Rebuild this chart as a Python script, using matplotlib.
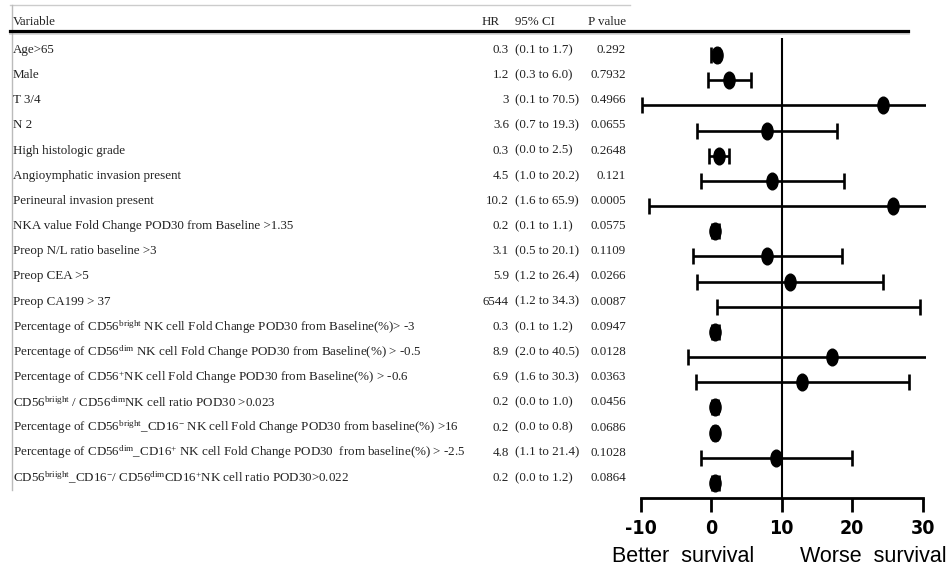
import matplotlib.pyplot as plt
import matplotlib.transforms as mtransforms
from matplotlib.lines import Line2D
from matplotlib.path import Path

plt.rcParams["mathtext.fontset"] = "custom"
plt.rcParams["mathtext.rm"] = "Liberation Serif"
plt.rcParams["mathtext.it"] = "Liberation Serif:italic"

# table columns
variables = [
    "Age>65",
    "Male",
    "T 3/4",
    "N 2",
    "High histologic grade",
    "Angioymphatic invasion present",
    "Perineural invasion present",
    "NKA value Fold Change POD30 from Baseline >1.35",
    "Preop N/L ratio baseline >3",
    "Preop CEA >5",
    "Preop CA199 > 37",
    r"Percentage of CD56$^{\mathrm{bright}}$ NK cell Fold Change POD30 from Baseline(%)> -3",
    r"Percentage of CD56$^{\mathrm{dim}}$ NK cell Fold Change POD30 from Baseline(%) > -0.5",
    r"Percentage of CD56$^{+}$NK cell Fold Change POD30 from Baseline(%) > -0.6",
    r"CD56$^{\mathrm{briight}}$ / CD56$^{\mathrm{dim}}$NK cell ratio POD30 >0.023",
    r"Percentage of CD56$^{\mathrm{bright}}$_CD16$^{-}$ NK cell Fold Change POD30 from baseline(%) >16",
    r"Percentage of CD56$^{\mathrm{dim}}$_CD16$^{+}$ NK cell Fold Change POD30  from baseline(%) > -2.5",
    r"CD56$^{\mathrm{briight}}$_CD16$^{-}$/ CD56$^{\mathrm{dim}}$CD16$^{+}$NK cell ratio POD30>0.022",
]
hr_text = ["0.3", "1.2", "3", "3.6", "0.3", "4.5", "10.2", "0.2", "3.1", "5.9",
           "6544", "0.3", "8.9", "6.9", "0.2", "0.2", "4.8", "0.2"]
ci_text = ["(0.1 to 1.7)", "(0.3 to 6.0)", "(0.1 to 70.5)", "(0.7 to 19.3)",
           "(0.0 to 2.5)", "(1.0 to 20.2)", "(1.6 to 65.9)", "(0.1 to 1.1)",
           "(0.5 to 20.1)", "(1.2 to 26.4)", "(1.2 to 34.3)", "(0.1 to 1.2)",
           "(2.0 to 40.5)", "(1.6 to 30.3)", "(0.0 to 1.0)", "(0.0 to 0.8)",
           "(1.1 to 21.4)", "(0.0 to 1.2)"]
p_text = ["0.292", "0.7932", "0.4966", "0.0655", "0.2648", "0.121", "0.0005",
          "0.0575", "0.1109", "0.0266", "0.0087", "0.0947", "0.0128", "0.0363",
          "0.0456", "0.0686", "0.1028", "0.0864"]

# values as drawn on the forest plot
point = [0.8, 2.5, 24.4, 7.9, 1.1, 8.6, 25.8, 0.6, 7.9, 11.2,
         6544, 0.6, 17.1, 12.9, 0.5, 0.5, 9.2, 0.6]
lower = [0.0, -0.5, -9.8, -2.0, -0.3, -1.5, -8.8, 0.1, -2.6, -2.0,
         0.8, 0.1, -3.3, -2.1, 0.1, 0.2, -1.5, 0.1]
upper = [1.1, 5.7, 70.5, 17.8, 2.5, 18.8, 65.9, 1.1, 18.5, 24.4,
         29.6, 1.1, 40.5, 28.0, 1.0, 0.8, 19.9, 1.1]
xticks = [-10, 0, 10, 20, 30]

W, H = 950, 573
fig = plt.figure(figsize=(9.5, 5.73), dpi=100)


def fx(px):
    return px / W


def fy(py):
    return 1 - py / H


# forest plot axes, placed in pixels
ax = fig.add_axes([fx(637.7), fy(498), fx(288), (498 - 38) / H])
ax.set_xlim(-10.4, 30.4)
n = len(variables)
ax.set_ylim(17.6, -0.675)

oval = Path(Path.unit_circle().vertices * [0.67, 1.0], Path.unit_circle().codes)
rows = list(range(n))
ax.hlines(rows, lower, upper, color="black", lw=1.9)
ax.plot(lower, rows, ls="none", marker="|", ms=11, mew=1.9, color="black")
ax.plot(upper, rows, ls="none", marker="|", ms=11, mew=1.9, color="black")
ax.plot(point, rows, ls="none", marker=oval, ms=12, color="black")
ax.axvline(10, color="black", lw=1.5)

for s in ["top", "right", "left"]:
    ax.spines[s].set_visible(False)
ax.spines["bottom"].set_bounds(-10, 30)
ax.spines["bottom"].set_linewidth(2)
ax.set_yticks([])
ax.set_xticks(xticks)
ax.set_xticklabels([str(t) for t in xticks], fontweight="bold",
                   family="DejaVu Sans", fontstretch="condensed")
ax.tick_params(axis="x", direction="out", length=10, width=2, labelsize=14, pad=5)
ax.patch.set_alpha(0)

fig.text(fx(612), fy(557), "Better  survival", fontsize=15.5,
         family="Liberation Sans", ha="left", va="center")
fig.text(fx(800), fy(557), "Worse  survival", fontsize=15.5,
         family="Liberation Sans", ha="left", va="center")

# table on the left, rows share the y scale of the forest axes
tr = mtransforms.blended_transform_factory(fig.transFigure, ax.transData)
tc = "#222222"
tkw = dict(family="Liberation Serif", fontsize=9.4, color=tc, va="center", transform=tr)
for i in range(n):
    y = i - 0.2
    fig.text(fx(13), y, variables[i], ha="left", **tkw)
    fig.text(fx(509), y, hr_text[i], ha="right", **tkw)
    fig.text(fx(515), y, ci_text[i], ha="left", **tkw)
    fig.text(fx(626), y, p_text[i], ha="right", **tkw)

hkw = dict(family="Liberation Serif", fontsize=9.4, color=tc, va="center")
fig.text(fx(13), fy(22), "Variable", ha="left", **hkw)
fig.text(fx(500), fy(22), "HR", ha="right", **hkw)
fig.text(fx(515), fy(22), "95% CI", ha="left", **hkw)
fig.text(fx(626), fy(22), "P value", ha="right", **hkw)

# table frame lines
fig.add_artist(Line2D([fx(10), fx(630)], [fy(5), fy(5)], color="#cccccc", lw=1))
fig.add_artist(Line2D([fx(12), fx(12)], [fy(5), fy(490)], color="#bbbbbb", lw=1))
fig.add_artist(Line2D([fx(10), fx(908)], [fy(33), fy(33)], color="#aaaaaa", lw=2, alpha=0.5))
fig.add_artist(Line2D([fx(10), fx(908)], [fy(31), fy(31)], color="black", lw=2.3))

fig.savefig("out.png", dpi=100)
